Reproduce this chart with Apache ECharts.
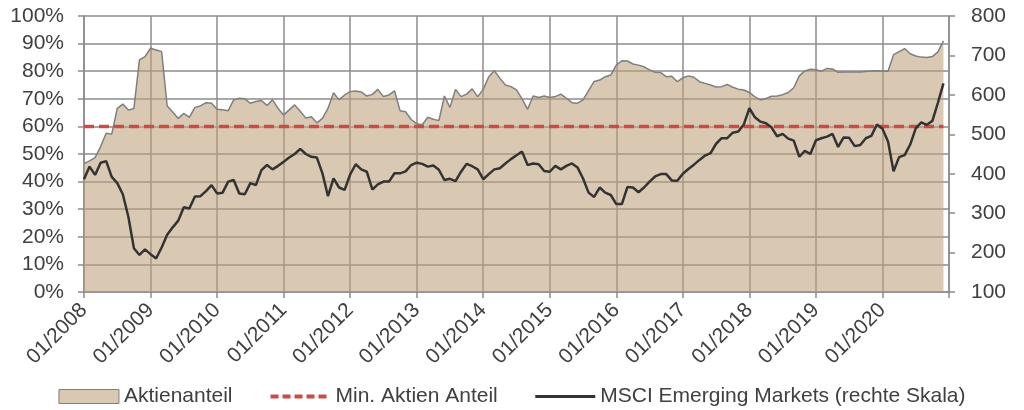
<!DOCTYPE html>
<html>
<head>
<meta charset="utf-8">
<script src="https://cdn.jsdelivr.net/npm/echarts@6/dist/echarts.min.js"></script>
<style>
  html, body { margin: 0; padding: 0; background: #fff; }
  #chart { width: 1024px; height: 410px; }
</style>
</head>
<body>
<div id="chart"></div>
<script>
// Monatswerte 01/2008 - 12/2020
var startYear = 2008;
var endYear = 2021; // letzte Kategorie 01/2021 nur fuer die Achse

var aktienanteil = [
    46.5, 47.5, 48.7, 52.7, 57.5, 57.2, 66.5, 68.1, 65.9, 66.5, 84.1, 85.3,
    88.3, 87.7, 87.1, 67.4, 65.2, 62.9, 64.7, 63.3, 66.9, 67.4, 68.6, 68.4,
    66.2, 66.0, 65.7, 69.6, 70.2, 70.0, 68.4, 69.0, 69.4, 67.6, 69.6, 66.5,
    64.1, 66.0, 67.8, 65.5, 63.0, 63.5, 61.3, 62.9, 66.5, 72.2, 69.6, 71.4,
    72.6, 72.8, 72.5, 71.0, 71.6, 73.4, 70.8, 71.4, 72.9, 65.7, 65.3, 62.5,
    61.0, 60.6, 63.3, 62.6, 62.1, 71.0, 66.9, 73.4, 70.8, 71.7, 73.6, 70.8,
    73.4, 78.0, 80.2, 77.4, 75.0, 74.4, 73.2, 70.0, 66.2, 71.0, 70.5, 71.0,
    70.5, 70.8, 71.7, 70.2, 68.6, 68.4, 69.6, 73.0, 76.3, 76.8, 78.0, 78.6,
    82.2, 83.8, 83.7, 82.6, 82.2, 81.6, 80.5, 79.6, 79.5, 78.0, 78.2, 76.2,
    77.6, 78.3, 77.8, 76.2, 75.6, 75.0, 74.3, 74.4, 75.2, 74.2, 73.5, 73.2,
    72.3, 70.7, 69.6, 70.1, 70.9, 71.0, 71.5, 72.3, 74.0, 78.3, 80.1, 80.7,
    80.5, 80.0, 81.0, 80.8, 79.6, 79.7, 79.7, 79.7, 79.7, 79.9, 80.1, 80.2,
    80.1, 80.0, 86.0, 87.1, 88.2, 86.3, 85.5, 85.1, 85.0, 85.3, 87.0, 91.0
];

var msciEM = [
    386, 418, 397, 428, 432, 392, 376, 348, 291, 211, 194, 208,
    196, 185, 213, 245, 264, 281, 315, 312, 342, 343, 356, 371,
    350, 352, 380, 384, 350, 348, 376, 371, 409, 422, 411, 420,
    430, 441, 450, 463, 450, 443, 441, 401, 343, 388, 365, 359,
    398, 424, 411, 405, 360, 373, 380, 380, 401, 401, 406, 422,
    428, 425, 418, 421, 410, 384, 387, 381, 405, 425, 419, 411,
    386, 399, 411, 414, 426, 437, 447, 456, 422, 426, 424, 407,
    405, 420, 411, 420, 426, 416, 388, 352, 341, 365, 352, 346,
    323, 323, 366, 365, 353, 365, 380, 393, 399, 399, 383, 382,
    400, 412, 423, 435, 446, 452, 476, 490, 490, 504, 507, 525,
    566, 543, 532, 528, 517, 495, 501, 489, 484, 443, 458, 450,
    485, 490, 494, 501, 468, 492, 491, 470, 473, 490, 496, 525,
    514, 482, 406, 442, 447, 474, 515, 530, 524, 534, 580, 629
];

var minAktienAnteil = 60;

var months = [];
for (var y = startYear; y <= endYear; y++) {
    for (var m = 1; m <= 12; m++) {
        if (y === endYear && m > 1) break;
        months.push((m < 10 ? '0' + m : '' + m) + '/' + y);
    }
}
var lastIdx = aktienanteil.length - 1;

var txtColor = '#404040';
var gridColor = '#8c8c8c';
var redColor = '#cd4b45';
var lineColor = '#333333';
var fontFam = '"Liberation Sans", Arial, sans-serif';

function yearStart(index) {
    return index % 12 === 0;
}

var chart = echarts.init(document.getElementById('chart'));

var option = {
    animation: false,
    textStyle: { fontFamily: fontFam },
    grid: {
        left: 84,
        right: 75,
        top: 16,
        bottom: 118
    },
    legend: {
        top: 381,
        left: 'center',
        itemWidth: 60,
        itemHeight: 14,
        itemGap: 36,
        textStyle: { fontSize: 21, color: txtColor, fontFamily: fontFam },
        data: [
            {
                name: 'Aktienanteil',
                icon: 'rect',
                itemStyle: { color: '#d9c9b3', borderColor: '#7f7f7f', borderWidth: 1, opacity: 1 }
            },
            {
                name: 'Min. Aktien Anteil',
                itemStyle: { opacity: 0 },
                lineStyle: { color: redColor, width: 4, type: [8, 4] }
            },
            {
                name: 'MSCI Emerging Markets (rechte Skala)',
                itemStyle: { opacity: 0 },
                lineStyle: { color: lineColor, width: 3 }
            }
        ]
    },
    xAxis: {
        type: 'category',
        boundaryGap: false,
        data: months,
        axisLine: { lineStyle: { color: gridColor, width: 1.5 } },
        axisTick: {
            interval: yearStart,
            length: 6,
            lineStyle: { color: gridColor, width: 1.5 }
        },
        axisLabel: {
            interval: function (index) { return index % 12 === 0 && index < months.length - 1; },
            rotate: 45,
            margin: 15,
            fontSize: 21,
            color: txtColor
        },
        splitLine: {
            show: true,
            interval: yearStart,
            lineStyle: { color: gridColor, width: 1.5 }
        }
    },
    yAxis: [
        {
            type: 'value',
            min: 0,
            max: 100,
            interval: 10,
            axisLine: { show: true, lineStyle: { color: gridColor, width: 1.5 } },
            axisTick: { show: true, length: 6, lineStyle: { color: gridColor, width: 1.5 } },
            axisLabel: { formatter: '{value}%', fontSize: 21, color: txtColor, margin: 20 },
            splitLine: { show: true, lineStyle: { color: gridColor, width: 1.5 } }
        },
        {
            type: 'value',
            position: 'right',
            min: 100,
            max: 800,
            interval: 100,
            axisLine: { show: true, lineStyle: { color: gridColor, width: 1.5 } },
            axisTick: { show: true, length: 6, lineStyle: { color: gridColor, width: 1.5 } },
            axisLabel: { fontSize: 21, color: txtColor, margin: 22 },
            splitLine: { show: false }
        }
    ],
    series: [
        {
            name: 'Aktienanteil',
            type: 'line',
            yAxisIndex: 0,
            symbol: 'none',
            data: aktienanteil,
            lineStyle: { color: '#7f7f7f', width: 1.5 },
            itemStyle: { color: '#d9c9b3' },
            areaStyle: { color: 'rgba(188,160,122,0.57)', opacity: 1 },
            z: 2
        },
        {
            name: 'Min. Aktien Anteil',
            type: 'line',
            yAxisIndex: 0,
            symbol: 'none',
            data: [[months[0], minAktienAnteil], [months[lastIdx], minAktienAnteil]],
            lineStyle: { color: redColor, width: 3.5, type: [10, 5] },
            itemStyle: { color: redColor },
            z: 3
        },
        {
            name: 'MSCI Emerging Markets (rechte Skala)',
            type: 'line',
            yAxisIndex: 1,
            symbol: 'none',
            data: msciEM,
            lineStyle: { color: lineColor, width: 2.5 },
            itemStyle: { color: lineColor },
            z: 4
        }
    ]
};

chart.setOption(option);
</script>
</body>
</html>
